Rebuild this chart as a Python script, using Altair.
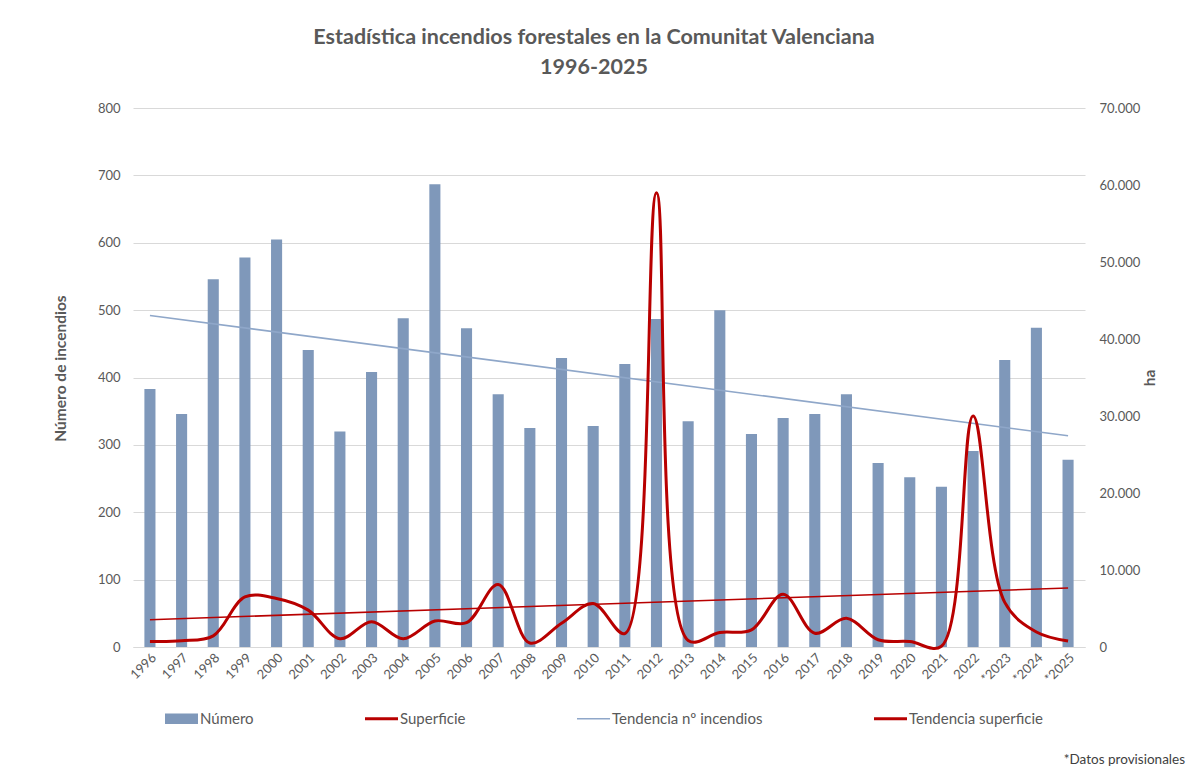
import json
import altair as alt
import pandas as pd

# ---------------- data ----------------
years = ["1996", "1997", "1998", "1999", "2000", "2001", "2002", "2003", "2004", "2005",
         "2006", "2007", "2008", "2009", "2010", "2011", "2012", "2013", "2014", "2015",
         "2016", "2017", "2018", "2019", "2020", "2021", "2022", "*2023", "*2024", "*2025"]
numero = [383, 346, 546, 578, 605, 441, 320, 408, 488, 687,
          473, 375, 325, 429, 328, 420, 487, 335, 500, 316,
          340, 346, 375, 273, 252, 238, 291, 426, 474, 278]
superficie = [730, 810, 1450, 6500, 6300, 4790, 1070, 3290, 1070, 3380,
              3160, 8120, 510, 3080, 5640, 1750, 59000, 850, 1880, 2220,
              6840, 1790, 3720, 940, 700, 100, 30000, 5800, 1950, 780]
series = ["Número", "Superficie", "Tendencia nº incendios", "Tendencia superficie"]
series_colors = ["#7f98ba", "#b80000", "#8fa7c9", "#b80000"]
legend_shapes = ["M-1,-0.32H1V0.32H-1Z", "M-1,-0.09H1V0.09H-1Z",
                 "M-1,-0.05H1V0.05H-1Z", "M-1,-0.09H1V0.09H-1Z"]
title_lines = ["Estadística incendios forestales en la Comunitat Valenciana", "1996-2025"]
footnote = "*Datos provisionales"
left_ticks = [0, 100, 200, 300, 400, 500, 600, 700, 800]
right_ticks = [0, 10000, 20000, 30000, 40000, 50000, 60000, 70000]

df = pd.DataFrame({"label": years, "idx": list(range(len(years))),
                   "numero": numero, "superficie": superficie})
legend_df = pd.DataFrame({"serie": series, "label": [years[0]] * 4, "numero": [0] * 4})
note_df = pd.DataFrame({"t": [footnote]})

FONT = "Lato"
GRAY = "#595959"
W, H = 952, 539

label_expr = json.dumps(years) + "[round(datum.idx)]"

x_enc = alt.X("label:N", sort=years,
              scale=alt.Scale(domain=years, paddingInner=0.65, paddingOuter=0.36),
              axis=alt.Axis(title=None, labelAngle=-45, labelColor=GRAY, labelFontSize=13,
                            labelFont=FONT, ticks=False, domain=True, domainColor="#d9d9d9",
                            grid=False, labelPadding=4))

left_axis = alt.Axis(title="Número de incendios", orient="left", values=left_ticks,
                     labelColor=GRAY, labelFontSize=13, labelFont=FONT, labelPadding=13,
                     titleColor=GRAY, titleFontSize=15.5, titleFont=FONT, titleFontWeight="bold",
                     titlePadding=29, titleY=260, titleAlign="center",
                     ticks=False, domain=False, grid=True,
                     gridColor="#d9d9d9", gridWidth=1)
right_axis = alt.Axis(title="ha", orient="right", values=right_ticks,
                      labelExpr="replace(format(datum.value, ','), ',', '.')",
                      labelColor=GRAY, labelFontSize=13, labelFont=FONT, labelPadding=14,
                      titleColor=GRAY, titleFontSize=15.5, titleFont=FONT, titleFontWeight="bold",
                      titleAngle=-90, titlePadding=18, ticks=False, domain=False, grid=False)

y_left = alt.Scale(domain=[0, 800], nice=False)
y_right = alt.Scale(domain=[0, 70000], nice=False)

base = alt.Chart(df)

bars = base.mark_bar(color=series_colors[0]).encode(
    x=x_enc, y=alt.Y("numero:Q", scale=y_left, axis=left_axis))

trend_n = base.transform_regression("idx", "numero").transform_calculate(
    label=label_expr
).mark_line(color=series_colors[2], strokeWidth=1.6).encode(
    x=x_enc, y=alt.Y("numero:Q", scale=y_left, axis=left_axis))

leg = alt.Legend(title=None, orient="none", direction="horizontal",
                 columns=4, legendX=32, legendY=594,
                 symbolSize=1089, symbolOpacity=1, symbolStrokeWidth=0,
                 labelFont=FONT, labelFontSize=15, labelColor=GRAY,
                 labelOffset=2, columnPadding=111)

legend_pts = alt.Chart(legend_df).mark_point(filled=True, opacity=0, size=10).encode(
    x=x_enc,
    y=alt.Y("numero:Q", scale=y_left, axis=left_axis),
    color=alt.Color("serie:N", sort=series,
                    scale=alt.Scale(domain=series, range=series_colors), legend=leg),
    shape=alt.Shape("serie:N", sort=series,
                    scale=alt.Scale(domain=series, range=legend_shapes), legend=leg),
)

sup_line = base.mark_line(color=series_colors[1], strokeWidth=3,
                          interpolate="catmull-rom").encode(
    x=x_enc, y=alt.Y("superficie:Q", scale=y_right, axis=right_axis))

trend_s = base.transform_regression("idx", "superficie").transform_calculate(
    label=label_expr
).mark_line(color=series_colors[3], strokeWidth=1.6).encode(
    x=x_enc, y=alt.Y("superficie:Q", scale=y_right, axis=right_axis))

note = alt.Chart(note_df).mark_text(align="right", baseline="middle", font=FONT,
                                    fontSize=13.5, color="#404040").encode(
    text="t:N", x=alt.value(1052), y=alt.value(652))

left_group = alt.layer(bars, trend_n, legend_pts)
right_group = alt.layer(sup_line, trend_s)

chart = alt.layer(left_group, right_group, note).resolve_scale(
    y="independent"
).properties(
    width=W, height=H,
    autosize=alt.AutoSizeParams(type="none"),
    padding={"left": 125, "top": 100, "right": 107, "bottom": 123},
    title=alt.TitleParams(text=title_lines, font=FONT, fontSize=21.5, fontWeight="bold",
                          color=GRAY, anchor="middle", lineHeight=30, offset=24, dx=-15),
).configure_view(stroke=None).configure_axis(labelFont=FONT)

chart.save("out.html", embed_options={"renderer": "svg", "actions": False})
